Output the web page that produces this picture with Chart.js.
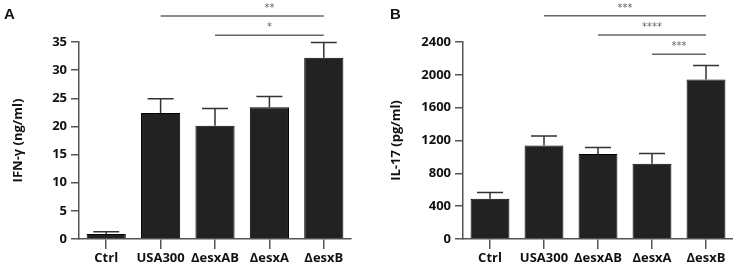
<!DOCTYPE html>
<html>
<head>
<meta charset="utf-8">
<script src="https://cdn.jsdelivr.net/npm/chart.js@4.4.1/dist/chart.umd.min.js"></script>
<style>
  body { margin: 0; background: #fff; }
  #wrap { position: relative; width: 733px; height: 270px; }
  .panel { position: absolute; top: 0; height: 270px; }
</style>
</head>
<body>
<div id="wrap">
  <div class="panel" style="left:0;width:366px"><canvas id="chartA"></canvas></div>
  <div class="panel" style="left:366px;width:367px"><canvas id="chartB"></canvas></div>
</div>
<script>
// categories
const strains = ["Ctrl", "USA300", "\u0394esxAB", "\u0394esxA", "\u0394esxB"];

// panel A : IFN-γ (ng/ml)
const ifnMean = [0.9, 22.4, 20.1, 23.4, 32.2];
const ifnErr = [0.4, 2.5, 3.1, 1.9, 2.7];
const ifnTicks = [0, 5, 10, 15, 20, 25, 30, 35];
// significance: [from, to, level, stars, star position]
const ifnSig = [
  [1, 4, 39.6, "**", 3],
  [2, 4, 36.2, "*", 3]
];

// panel B : IL-17 (pg/ml)
const il17Mean = [490, 1139, 1037, 918, 1943];
const il17Err = [78, 115, 77, 123, 172];
const il17Ticks = [0, 400, 800, 1200, 1600, 2000, 2400];
const il17Sig = [
  [1, 4, 2720, "***", 2.5],
  [2, 4, 2486, "****", 3],
  [3, 4, 2250, "***", 3.5]
];

const tickFont = { family: "'Open Sans', sans-serif", size: 13, weight: "bold" };
const axisColor = "#555";

// error bars + significance bars + panel letter
const extras = {
  id: "extras",
  afterDatasetsDraw(chart, args, opts) {
    const ctx = chart.ctx;
    const x = chart.scales.x, y = chart.scales.y;
    const meta = chart.getDatasetMeta(0);
    ctx.save();
    ctx.strokeStyle = "#333";
    ctx.lineWidth = 1.5;
    meta.data.forEach((bar, i) => {
      const top = y.getPixelForValue(opts.mean[i] + opts.err[i]);
      ctx.beginPath();
      ctx.moveTo(bar.x, bar.y);
      ctx.lineTo(bar.x, top);
      ctx.moveTo(bar.x - 13, top);
      ctx.lineTo(bar.x + 13, top);
      ctx.stroke();
    });
    ctx.strokeStyle = "#666";
    ctx.lineWidth = 1.5;
    ctx.fillStyle = "#666";
    ctx.font = "10px 'DejaVu Sans', sans-serif";
    ctx.textAlign = "center";
    opts.sig.forEach(s => {
      const py = y.getPixelForValue(s[2]);
      const x1 = x.getPixelForValue(s[0]);
      const x2 = x.getPixelForValue(s[1]);
      ctx.beginPath();
      ctx.moveTo(x1, py);
      ctx.lineTo(x2, py);
      ctx.stroke();
      const fi = Math.floor(s[4]);
      const sx = x.getPixelForValue(fi) + (s[4] - fi) * (x.getPixelForValue(fi + 1) - x.getPixelForValue(fi) || 0);
      ctx.fillText(s[3], sx, py - 5);
    });
    ctx.fillStyle = "#111";
    ctx.font = "bold 15px 'Liberation Sans', Arial, sans-serif";
    ctx.textAlign = "left";
    ctx.fillText(opts.letter, opts.letterX, 19);
    ctx.restore();
  }
};

function makeChart(id, mean, err, ticks, sig, title, letter, letterX, axisW, padRight, titlePad) {
  return new Chart(document.getElementById(id), {
    type: "bar",
    data: {
      labels: strains,
      datasets: [{
        data: mean,
        backgroundColor: "#222",
        borderColor: "#000",
        borderWidth: 1,
        barPercentage: 0.72,
        categoryPercentage: 1
      }]
    },
    options: {
      responsive: true,
      maintainAspectRatio: false,
      animation: false,
      layout: { padding: { top: 42, right: padRight, bottom: 0, left: 0 } },
      plugins: {
        legend: { display: false },
        tooltip: { enabled: false },
        extras: { mean: mean, err: err, sig: sig, letter: letter, letterX: letterX }
      },
      scales: {
        x: {
          grid: { display: true, drawOnChartArea: false, offset: false, tickLength: 10, color: axisColor, lineWidth: 1.5 },
          border: { color: axisColor, width: 1.5 },
          ticks: { color: "#111", font: tickFont, padding: 1, maxRotation: 0 },
          afterFit(scale) { scale.height = 31; }
        },
        y: {
          min: ticks[0],
          max: ticks[ticks.length - 1],
          afterBuildTicks(scale) { scale.ticks = ticks.map(v => ({ value: v })); },
          grid: { display: true, drawOnChartArea: false, tickLength: 8, color: axisColor, lineWidth: 1.5 },
          border: { color: axisColor, width: 1.5 },
          ticks: { color: "#111", font: tickFont, padding: 4, callback: v => String(v) },
          title: { display: true, text: title, color: "#111", font: tickFont, padding: { top: titlePad, bottom: 0 } },
          afterFit(scale) { scale.width = axisW; }
        }
      }
    },
    plugins: [extras]
  });
}

makeChart("chartA", ifnMean, ifnErr, ifnTicks, ifnSig, "IFN-\u03b3 (ng/ml)", "A", 4, 79, 15, 10);
makeChart("chartB", il17Mean, il17Err, il17Ticks, il17Sig, "IL-17 (pg/ml)", "B", 24, 97, 0, 22);
</script>
</body>
</html>
